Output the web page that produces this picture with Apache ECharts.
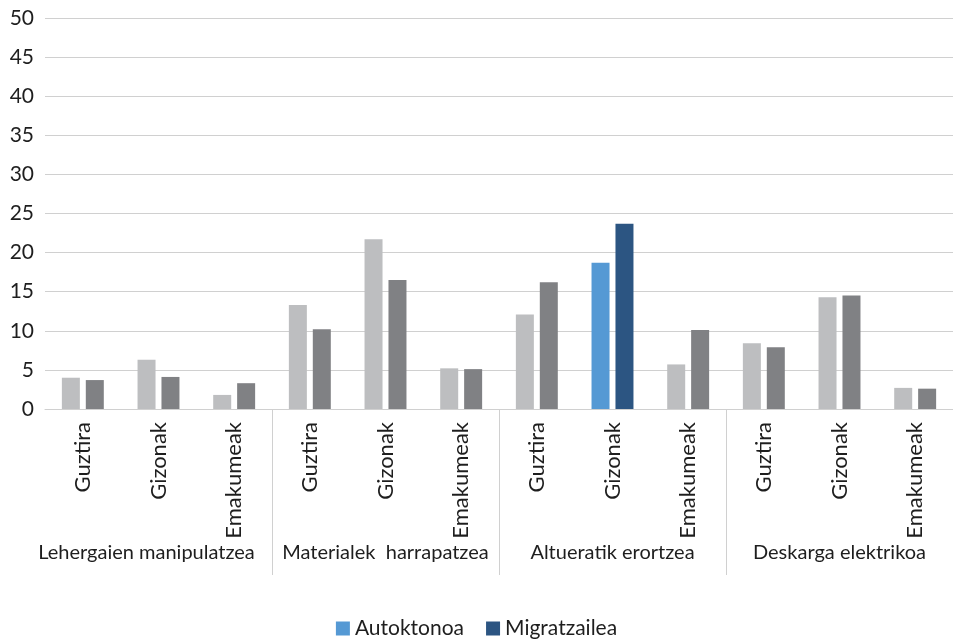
<!DOCTYPE html>
<html>
<head>
<meta charset="utf-8">
<script src="https://cdn.jsdelivr.net/npm/echarts@6/dist/echarts.min.js"></script>
<style>
  html, body { margin: 0; padding: 0; background: #fff; }
  #chart { width: 953px; height: 642px; }
</style>
</head>
<body>
<div id="chart"></div>
<script>
// kategoriak
const groups = ["Lehergaien manipulatzea", "Materialek  harrapatzea", "Altueratik erortzea", "Deskarga elektrikoa"];
const subs = ["Guztira", "Gizonak", "Emakumeak"];
const categories = [];
groups.forEach(() => subs.forEach((s) => categories.push(s)));

// balioak (%)
const autoktonoa = [4.0, 6.3, 1.8, 13.3, 21.7, 5.2, 12.1, 18.7, 5.7, 8.4, 14.3, 2.7];
const migratzailea = [3.7, 4.1, 3.3, 10.2, 16.5, 5.1, 16.2, 23.7, 10.1, 7.9, 14.5, 2.6];
const highlight = 7; // Altueratik erortzea - Gizonak

const yTicks = [0, 50, 5];

const font = "Lato";
const textColor = "#1e1e1e";

const chart = echarts.init(document.getElementById("chart"));

function paint(values, base, hl) {
  return values.map((v, i) => ({
    value: v,
    itemStyle: { color: i === highlight ? hl : base },
  }));
}

chart.setOption({
  animation: false,
  textStyle: { fontFamily: font },
  grid: { left: 45, right: -2, top: 18, bottom: 233, containLabel: false },
  legend: {
    bottom: -2,
    left: "center",
    itemWidth: 14,
    itemHeight: 14,
    itemGap: 22,
    icon: "rect",
    textStyle: { fontFamily: font, fontSize: 21, color: textColor },
    data: ["Autoktonoa", "Migratzailea"],
  },
  xAxis: [
    {
      type: "category",
      data: categories,
      axisLine: { show: true, lineStyle: { color: "#d0d0d0", width: 1 } },
      axisTick: { show: false },
      axisLabel: {
        rotate: 90,
        interval: 0,
        margin: 13,
        fontFamily: font,
        fontSize: 22,
        color: textColor,
      },
    },
    {
      type: "category",
      data: groups,
      position: "bottom",
      axisLine: { show: false },
      axisTick: {
        show: true,
        length: 166,
        lineStyle: { color: "#d0d0d0", width: 1 },
        interval: (i) => i > 0,
      },
      axisLabel: {
        interval: 0,
        margin: 134,
        fontFamily: font,
        fontSize: 20,
        color: textColor,
        formatter: (v, i) => (i === 0 ? "{a|" + v + "}" : v),
        rich: {
          a: { fontFamily: font, fontSize: 20, color: textColor, padding: [0, 24, 0, 0] },
        },
      },
    },
  ],
  yAxis: {
    type: "value",
    min: yTicks[0],
    max: yTicks[1],
    interval: yTicks[2],
    axisLine: { show: false },
    axisTick: { show: false },
    splitLine: { lineStyle: { color: "#d0d0d0", width: 1 } },
    axisLabel: { margin: 11, fontFamily: font, fontSize: 21, color: textColor },
  },
  series: [
    {
      name: "Autoktonoa",
      type: "bar",
      xAxisIndex: 0,
      barWidth: 18,
      barGap: "33%",
      color: "#5599d4",
      data: paint(autoktonoa, "#bdbec0", "#5599d4"),
    },
    {
      name: "Migratzailea",
      type: "bar",
      xAxisIndex: 0,
      barWidth: 18,
      barGap: "33%",
      color: "#2c5582",
      data: paint(migratzailea, "#808184", "#2c5582"),
    },
  ],
});
</script>
</body>
</html>
